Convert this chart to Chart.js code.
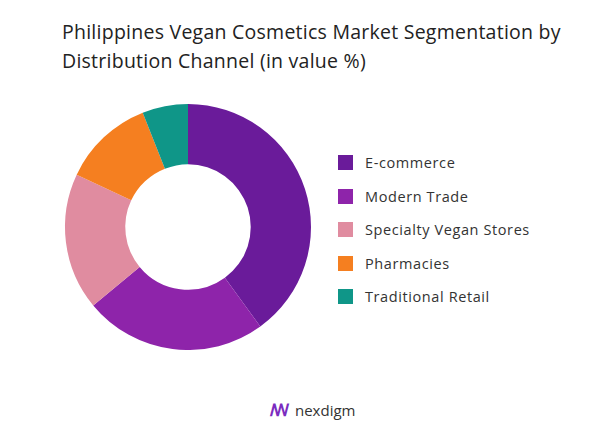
<!DOCTYPE html>
<html>
<head>
<meta charset="utf-8">
<script src="https://cdn.jsdelivr.net/npm/chart.js@4"></script>
<style>
  body { margin: 0; width: 600px; height: 435px; background: #fff; font-family: "Open Sans", sans-serif; position: relative; overflow: hidden; }
  #titulo { position: absolute; left: 62px; top: 17px; font-size: 19.5px; letter-spacing: 0.25px; color: #222; line-height: 29px; font-weight: 500; }
  #grafico { position: absolute; left: 58px; top: 104px; width: 260px; height: 246px; }
  #leyenda { position: absolute; left: 338px; top: 146px; font-size: 14.5px; letter-spacing: 0.6px; color: #333; }
  .item { display: flex; align-items: center; height: 33.5px; }
  .caja { width: 15px; height: 15px; margin-right: 12px; }
  #logo { position: absolute; left: 270px; top: 398px; font-size: 15px; color: #333; display: flex; align-items: center; }
</style>
</head>
<body>
<div id="titulo">Philippines Vegan Cosmetics Market Segmentation by<br>Distribution Channel (in value %)</div>
<div id="grafico"><canvas id="dona"></canvas></div>
<div id="leyenda"></div>
<div id="logo"><span style="color:#7b2cbf;font-weight:bold;font-size:17px;margin-right:6px;">ꟿ</span>nexdigm</div>
<script>
// Datos de la segmentación
const canales = ["E-commerce", "Modern Trade", "Specialty Vegan Stores", "Pharmacies", "Traditional Retail"];
const porcentajes = [40, 24, 18, 12, 6];
const colores = ["#6a1b9a", "#8e24aa", "#e08ca0", "#f57f20", "#0f9688"];

// Leyenda en HTML
document.getElementById("leyenda").innerHTML = canales
  .map((c, i) => `<div class="item"><div class="caja" style="background:${colores[i]}"></div>${c}</div>`)
  .join("");

new Chart(document.getElementById("dona"), {
  type: "doughnut",
  data: {
    labels: canales,
    datasets: [{ data: porcentajes, backgroundColor: colores, borderWidth: 0 }],
  },
  options: {
    responsive: true,
    maintainAspectRatio: false,
    animation: false,
    cutout: "51%",
    plugins: { legend: { display: false }, tooltip: { enabled: false } },
  },
});
</script>
</body>
</html>
